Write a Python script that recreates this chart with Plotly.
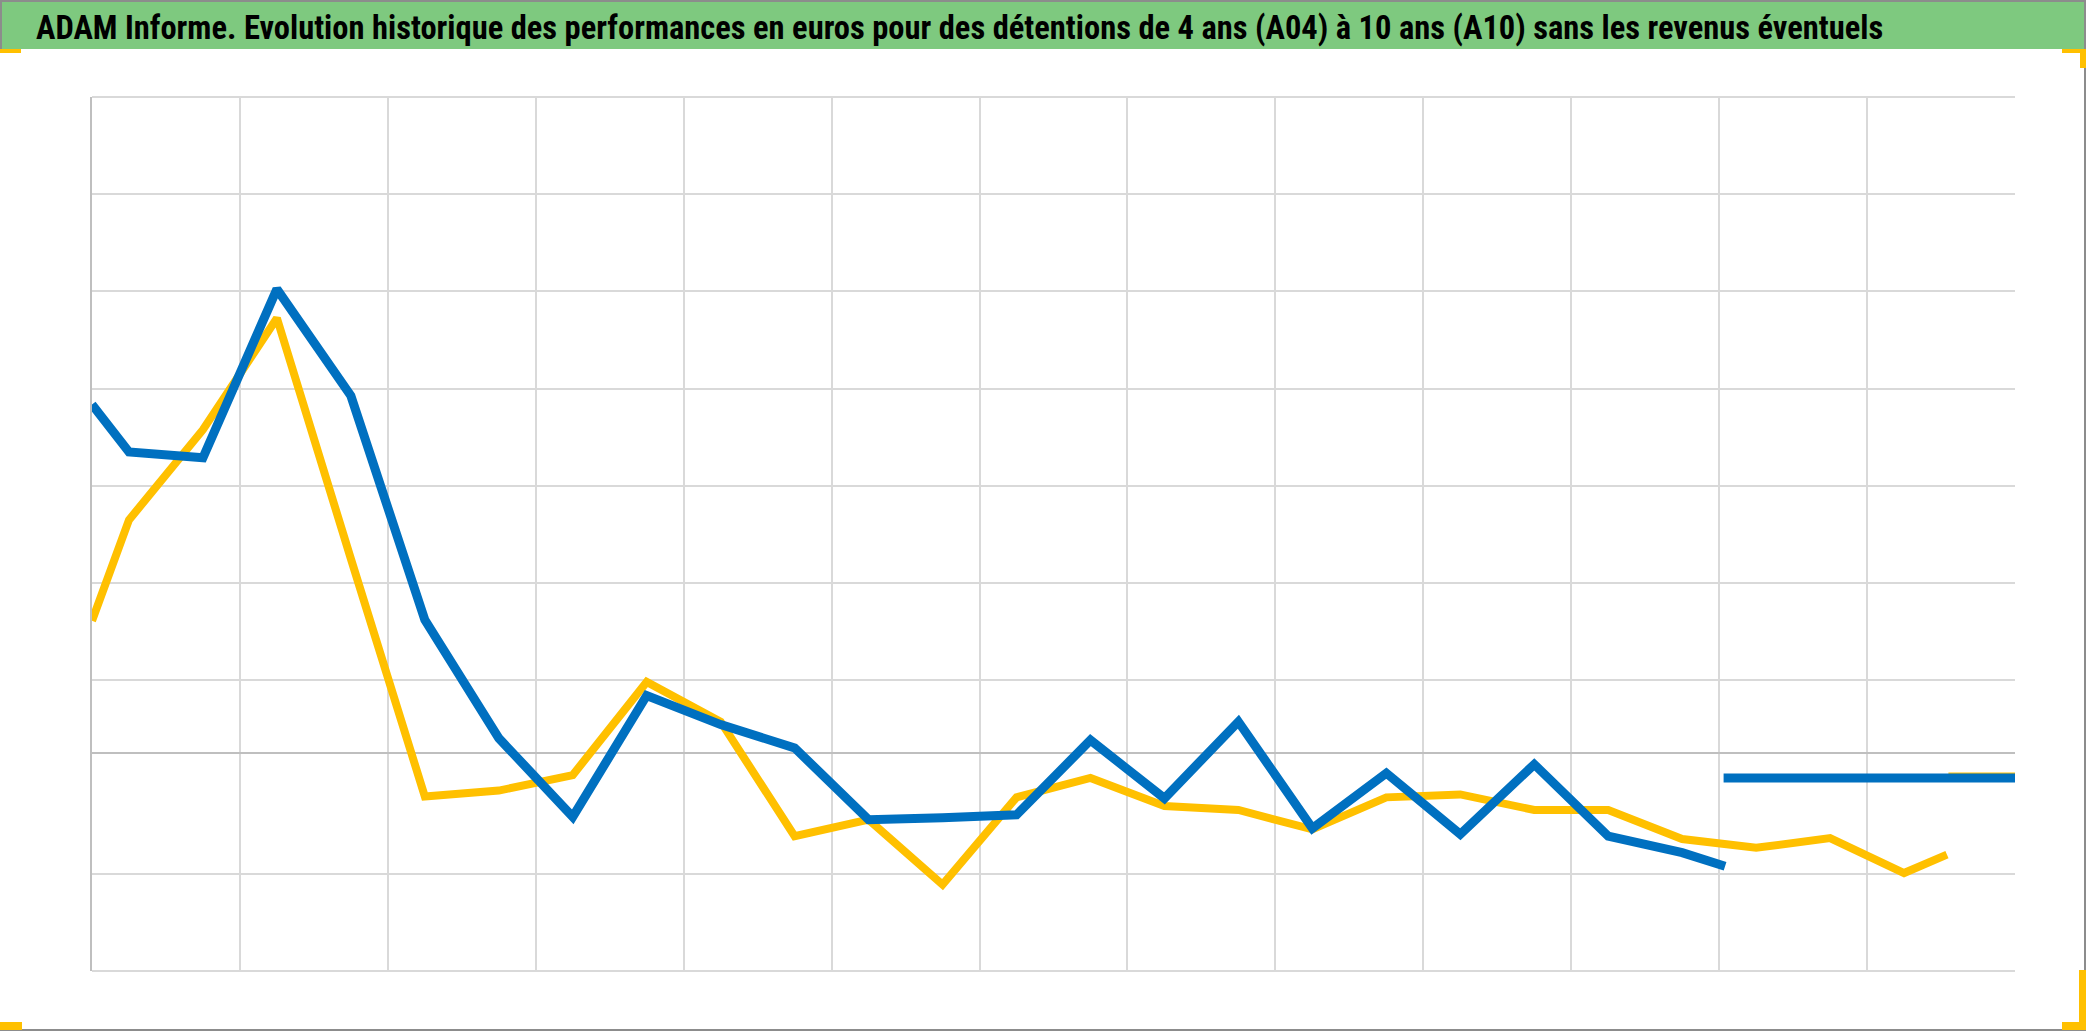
import plotly.graph_objects as go

# ---------------- data ----------------
# x: position along the horizontal axis (one unit = one vertical gridline interval)
# y: performance in euros (0 = darker horizontal axis line)
x_blue = [0, 0.25, 0.75, 1.25, 1.75, 2.25, 2.75, 3.25, 3.75, 4.25, 4.75, 5.25, 5.75,
          6.25, 6.75, 7.25, 7.75, 8.25, 8.75, 9.25, 9.75, 10.25, 10.75, 11.04]
y_blue = [35.9, 31.0, 30.4, 47.8, 36.8, 13.7, 1.5, -6.6, 5.9, 2.9, 0.5, -6.9, -6.7,
          -6.4, 1.3, -4.7, 3.2, -7.8, -2.1, -8.4, -1.2, -8.6, -10.3, -11.7]
x_blue_flat = [11.03, 13.0]
y_blue_flat = [-2.6, -2.6]

x_yellow = [0, 0.25, 0.75, 1.25, 1.75, 2.25, 2.75, 3.25, 3.75, 4.25, 4.75, 5.25, 5.75,
            6.25, 6.75, 7.25, 7.75, 8.25, 8.75, 9.25, 9.75, 10.25, 10.75, 11.25, 11.75,
            12.25, 12.54]
y_yellow = [13.6, 24.0, 33.3, 44.8, 20.0, -4.5, -3.9, -2.3, 7.3, 3.2, -8.6, -6.9, -13.6,
            -4.6, -2.6, -5.5, -5.9, -7.9, -4.6, -4.3, -5.9, -5.9, -8.9, -9.8, -8.8,
            -12.4, -10.5]
x_yellow_flat = [12.55, 13.0]
y_yellow_flat = [-2.45, -2.45]

x_grid = list(range(0, 13))
y_grid = [-22.45, -12.45, 7.55, 17.55, 27.55, 37.55, 47.55, 57.55, 67.55]

title_text = ("ADAM Informe. Evolution historique des performances en euros pour des "
              "détentions de 4 ans (A04) à 10 ans (A10) sans les revenus éventuels")

# ---------------- layout geometry ----------------
W, H = 2086, 1031
L, R, T, B = 92, 2015, 97, 971
PW, PH = R - L, B - T


def px(X):
    return (X - L) / PW


def py(Y):
    return (B - Y) / PH


BLUE = "#0070C0"
YELLOW = "#FFC000"
GRID = "#D9D9D9"

fig = go.Figure()
fig.add_trace(go.Scatter(
    x=x_yellow + [None] + x_yellow_flat,
    y=y_yellow + [None] + y_yellow_flat,
    mode="lines", name="A04", connectgaps=False,
    line=dict(color=YELLOW, width=8), hoverinfo="skip", showlegend=False))
fig.add_trace(go.Scatter(
    x=x_blue + [None] + x_blue_flat,
    y=y_blue + [None] + y_blue_flat,
    mode="lines", name="A10", connectgaps=False,
    line=dict(color=BLUE, width=9), hoverinfo="skip", showlegend=False))

shapes = []
# green title band
shapes.append(dict(type="rect", xref="paper", yref="paper",
                   x0=px(0), x1=px(W), y0=py(49), y1=py(0),
                   fillcolor="#7EC97F", line=dict(width=0), layer="below"))
# top and bottom border lines of the plot area
for yy in (0.0, 1.0):
    shapes.append(dict(type="line", xref="paper", yref="paper", x0=0, x1=1, y0=yy, y1=yy,
                       line=dict(color=GRID, width=2), layer="below"))
# outer frame
frame = dict(color="#8C8C8C", width=2)
shapes.append(dict(type="line", xref="paper", yref="paper", x0=px(0), x1=px(W), y0=py(1), y1=py(1), line=frame))
shapes.append(dict(type="line", xref="paper", yref="paper", x0=px(W - 1), x1=px(W - 1), y0=py(0), y1=py(H), line=frame))
shapes.append(dict(type="line", xref="paper", yref="paper", x0=px(0), x1=px(W), y0=py(H - 1), y1=py(H - 1), line=frame))
shapes.append(dict(type="line", xref="paper", yref="paper", x0=px(1), x1=px(1), y0=py(0), y1=py(49), line=frame))
# yellow selection brackets
for (x0, y0, x1, y1) in [(0, 49, 21, 53), (2062, 49, 2086, 53), (2080, 49, 2086, 68),
                         (0, 1022, 22, 1030), (2079, 970, 2086, 1030), (2062, 1022, 2086, 1030)]:
    shapes.append(dict(type="rect", xref="paper", yref="paper",
                       x0=px(x0), x1=px(x1), y0=py(y1), y1=py(y0),
                       fillcolor=YELLOW, line=dict(width=0)))

fig.update_layout(
    width=W, height=H,
    margin=dict(l=L, r=W - R, t=T, b=H - B, pad=0),
    paper_bgcolor="white", plot_bgcolor="white",
    shapes=shapes,
    annotations=[dict(text="<b>" + title_text + "</b>", xref="paper", yref="paper",
                      x=px(34), y=py(28), xanchor="left", yanchor="middle",
                      showarrow=False,
                      font=dict(family="Liberation Sans Narrow, Roboto Condensed, Liberation Sans, Arial",
                                size=32.5, color="black"))],
    xaxis=dict(range=[0, 13], tickvals=x_grid, showticklabels=False, ticks="",
               showgrid=True, gridcolor=GRID, gridwidth=2, zeroline=False,
               showline=False, fixedrange=True),
    yaxis=dict(range=[-22.5, 67.6], tickvals=y_grid, showticklabels=False, ticks="",
               showgrid=True, gridcolor=GRID, gridwidth=2,
               zeroline=True, zerolinecolor="#BFBFBF", zerolinewidth=2,
               showline=True, linecolor="#BFBFBF", linewidth=2, fixedrange=True),
)

fig.write_html("out.html", config={"displayModeBar": False},
               post_script="document.body.style.margin='0px';"
                           "document.body.style.overflow='hidden';")
